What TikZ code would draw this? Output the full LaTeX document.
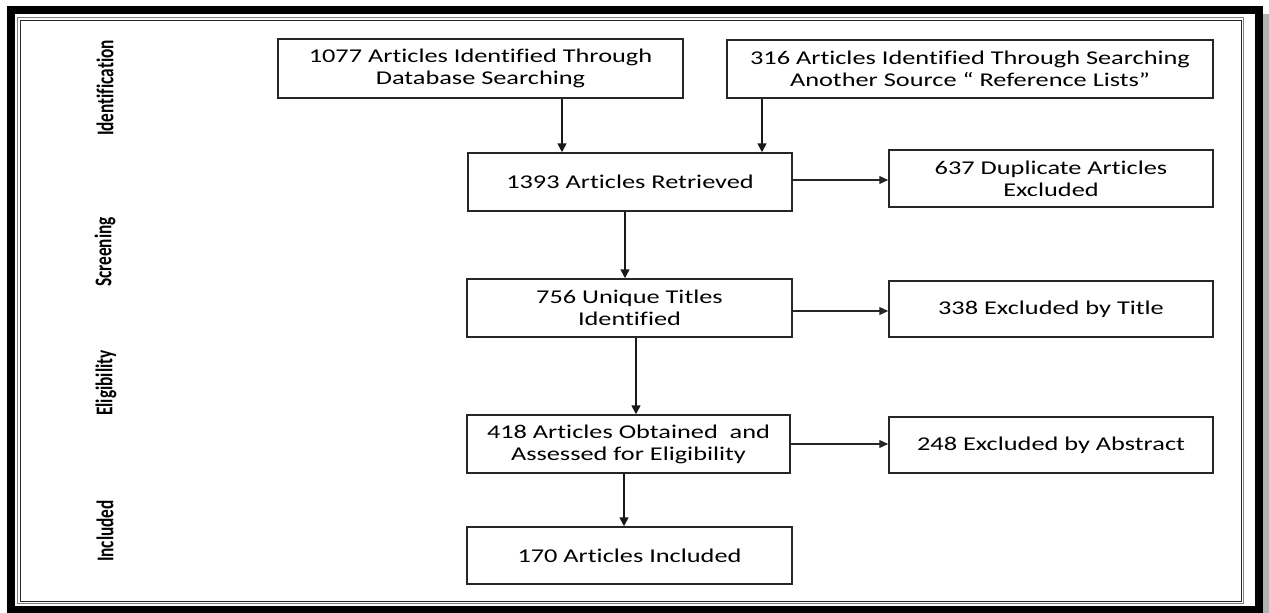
\documentclass[tikz,border=0pt]{standalone}
\usepackage{fontspec}
\setmainfont{Carlito}[FakeStretch=1.35,Ligatures=NoCommon]
\newfontfamily\sidefont{Carlito}[FakeStretch=0.72,Ligatures=NoCommon]
\usetikzlibrary{arrows.meta}
\begin{document}
\begin{tikzpicture}[x=1pt,y=-1pt,
  box/.style={draw=black!85,line width=1.5pt,align=center,inner sep=0pt,
    font=\fontsize{19.5}{22}\selectfont},
  side/.style={rotate=90,inner sep=0pt,font=\sidefont\bfseries\fontsize{24}{26}\selectfont},
  arr/.style={-{Triangle[length=9pt,width=9pt]},line width=1.6pt,black!90},
  harr/.style={-{Triangle[length=9pt,width=8pt]},line width=1.3pt,black!85},
  ]
\useasboundingbox (0,0) rectangle (1269,613);
% frame
\fill[black!30] (1263,14) rectangle (1269,613);
\draw[line width=8pt] (11,10) rectangle (1259,610);
\draw[black!50,line width=1pt] (17.5,17.5) rectangle (1243,603);
\draw[black!85,line width=1pt] (20,20) rectangle (1241,601);
% side labels
\node[side] (lid) at (105,88) {Identification};
\node[side] (lsc) at (105,252) {Screening};
\node[side] (lel) at (106,383) {Eligibility};
\node[side] (lin) at (105,531) {Included};
% boxes
\node[box,minimum width=405pt,minimum height=59pt] (A) at (480.5,68.5)
  {1077 Articles Identified Through\\Database Searching};
\node[box,minimum width=486pt,minimum height=58pt] (B) at (970,69)
  {316 Articles Identified Through Searching\\Another Source “ Reference Lists”};
\node[box,minimum width=324pt,minimum height=58pt] (C) at (630,182)
  {1393 Articles Retrieved};
\node[box,minimum width=324pt,minimum height=57pt] (D) at (1051,178.5)
  {637 Duplicate Articles\\Excluded};
\node[box,minimum width=325pt,minimum height=58pt] (E) at (629.5,308)
  {756 Unique Titles\\Identified};
\node[box,minimum width=324pt,minimum height=56pt] (F) at (1051,309)
  {338 Excluded by Title};
\node[box,minimum width=323pt,minimum height=58pt] (G) at (628.5,444)
  {418 Articles Obtained\ \ and\\Assessed for Eligibility};
\node[box,minimum width=324pt,minimum height=56pt] (H) at (1051,445)
  {248 Excluded by Abstract};
\node[box,minimum width=325pt,minimum height=57pt] (I) at (629.5,555.5)
  {170 Articles Included};
% connector guides
\coordinate (ac) at (562,0);
\coordinate (bc) at (762,0);
\coordinate (ce) at (625,0);
\coordinate (eg) at (636,0);
\coordinate (gi) at (624,0);
\coordinate (cd) at (0,180);
\coordinate (ef) at (0,311);
\coordinate (gh) at (0,444);
% connectors
\draw[arr] (A.south -| ac) -- (C.north -| ac);
\draw[arr] (B.south -| bc) -- (C.north -| bc);
\draw[arr] (C.south -| ce) -- (E.north -| ce);
\draw[arr] (E.south -| eg) -- (G.north -| eg);
\draw[arr] (G.south -| gi) -- (I.north -| gi);
\draw[harr] (C.east |- cd) -- (D.west |- cd);
\draw[harr] (E.east |- ef) -- (F.west |- ef);
\draw[harr] (G.east |- gh) -- (H.west |- gh);
\end{tikzpicture}
\end{document}
